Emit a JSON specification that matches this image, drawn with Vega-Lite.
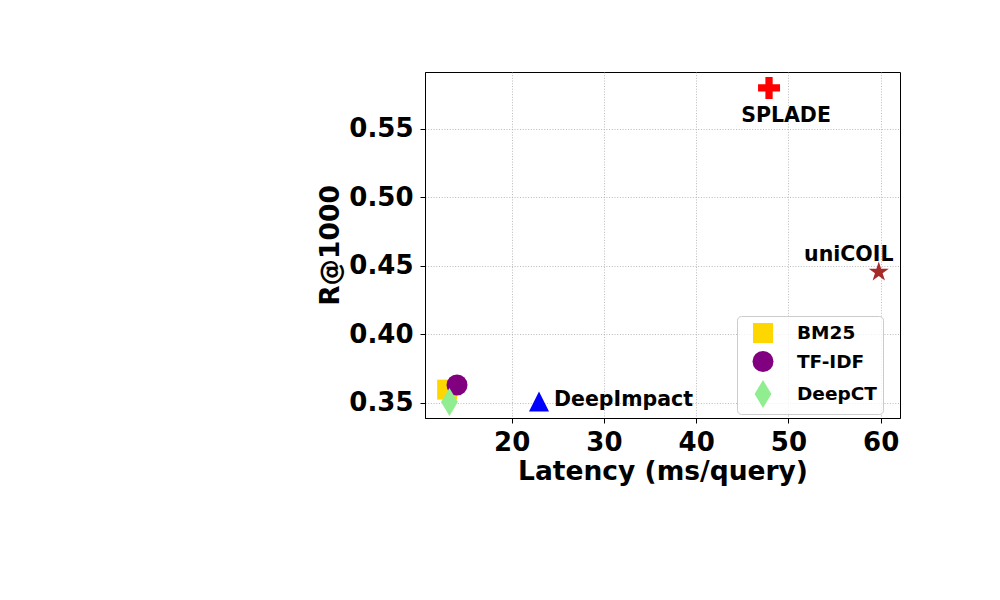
{
  "$schema": "https://vega.github.io/schema/vega-lite/v6.json",
  "width": 475,
  "height": 346,
  "autosize": {"type": "none"},
  "padding": {"left": 425, "top": 72, "right": 100, "bottom": 182},
  "background": "white",
  "config": {
    "view": {"stroke": "black", "strokeWidth": 1},
    "axis": {
      "labelFont": "DejaVu Sans",
      "labelFontWeight": "bold",
      "labelFontSize": 26,
      "labelColor": "black",
      "titleFont": "DejaVu Sans",
      "titleFontWeight": "bold",
      "titleFontSize": 26.5,
      "titleColor": "black",
      "tickColor": "black",
      "tickSize": 5,
      "domainColor": "black",
      "gridColor": "#aaaaaa",
      "gridDash": [1, 1.7],
      "gridWidth": 0.8
    },
    "legend": {
      "labelFont": "DejaVu Sans",
      "labelFontWeight": "bold",
      "labelFontSize": 18.5,
      "labelColor": "black"
    }
  },
  "data": {
    "values": [
      {"method": "BM25", "latency": 13.0, "recall": 0.3597},
      {"method": "TF-IDF", "latency": 14.07, "recall": 0.3631},
      {"method": "DeepCT", "latency": 13.25, "recall": 0.3506},
      {"method": "DeepImpact", "latency": 22.96, "recall": 0.351},
      {"method": "SPLADE", "latency": 47.9, "recall": 0.5799},
      {"method": "uniCOIL", "latency": 59.8, "recall": 0.4455}
    ]
  },
  "encoding": {
    "x": {
      "field": "latency",
      "type": "quantitative",
      "scale": {"domain": [10.6, 62.1], "nice": false, "zero": false},
      "axis": {"values": [20, 30, 40, 50, 60], "title": "Latency (ms/query)", "labelPadding": 6, "titlePadding": 3, "grid": true}
    },
    "y": {
      "field": "recall",
      "type": "quantitative",
      "scale": {"domain": [0.339, 0.5915], "nice": false, "zero": false},
      "axis": {"values": [0.35, 0.4, 0.45, 0.5, 0.55], "format": ".2f", "title": "R@1000", "labelPadding": 7, "titlePadding": 4, "grid": true}
    }
  },
  "layer": [
    {
      "mark": {"type": "point", "filled": true, "opacity": 1, "strokeWidth": 0},
      "encoding": {
        "color": {
          "field": "method",
          "type": "nominal",
          "scale": {
            "domain": ["BM25", "TF-IDF", "DeepCT", "DeepImpact", "SPLADE", "uniCOIL"],
            "range": ["#FFD700", "#800080", "#90EE90", "#0000FF", "#FF0000", "#A52A2A"]
          },
          "legend": {
            "values": ["BM25", "TF-IDF", "DeepCT"],
            "title": null,
            "orient": "none",
            "legendX": 312,
            "legendY": 244,
            "padding": 6,
            "rowPadding": 7,
            "symbolOffset": 5,
            "labelOffset": 19,
            "fillColor": "rgba(255,255,255,0.8)",
            "strokeColor": "#cccccc",
            "cornerRadius": 4
          }
        },
        "shape": {
          "field": "method",
          "type": "nominal",
          "scale": {
            "domain": ["BM25", "TF-IDF", "DeepCT", "DeepImpact", "SPLADE", "uniCOIL"],
            "range": [
              "square",
              "circle",
              "M0,-1L0.6,0L0,1L-0.6,0Z",
              "M0,-1L1,1L-1,1Z",
              "M-0.33,-1L0.33,-1L0.33,-0.33L1,-0.33L1,0.33L0.33,0.33L0.33,1L-0.33,1L-0.33,0.33L-1,0.33L-1,-0.33L-0.33,-0.33Z",
              "M0,-1L0.225,-0.309L0.951,-0.309L0.363,0.118L0.588,0.809L0,0.382L-0.588,0.809L-0.363,0.118L-0.951,-0.309L-0.225,-0.309Z"
            ]
          },
          "legend": {"values": ["BM25", "TF-IDF", "DeepCT"]}
        },
        "size": {
          "field": "method",
          "type": "nominal",
          "scale": {
            "type": "ordinal",
            "domain": ["BM25", "TF-IDF", "DeepCT", "DeepImpact", "SPLADE", "uniCOIL"],
            "range": [400, 441, 784, 400, 484, 441]
          },
          "legend": {"values": ["BM25", "TF-IDF", "DeepCT"]}
        }
      }
    },
    {
      "transform": [{"filter": "datum.method === 'SPLADE'"}],
      "mark": {"type": "text", "font": "DejaVu Sans", "fontWeight": "bold", "fontSize": 20.5, "color": "black", "align": "center", "baseline": "middle", "dx": 17, "dy": 28},
      "encoding": {"text": {"field": "method"}}
    },
    {
      "transform": [{"filter": "datum.method === 'uniCOIL'"}],
      "mark": {"type": "text", "font": "DejaVu Sans", "fontWeight": "bold", "fontSize": 20.5, "color": "black", "align": "center", "baseline": "middle", "dx": -30, "dy": -17},
      "encoding": {"text": {"field": "method"}}
    },
    {
      "transform": [{"filter": "datum.method === 'DeepImpact'"}],
      "mark": {"type": "text", "font": "DejaVu Sans", "fontWeight": "bold", "fontSize": 20.5, "color": "black", "align": "left", "baseline": "middle", "dx": 15, "dy": -2},
      "encoding": {"text": {"field": "method"}}
    }
  ]
}
